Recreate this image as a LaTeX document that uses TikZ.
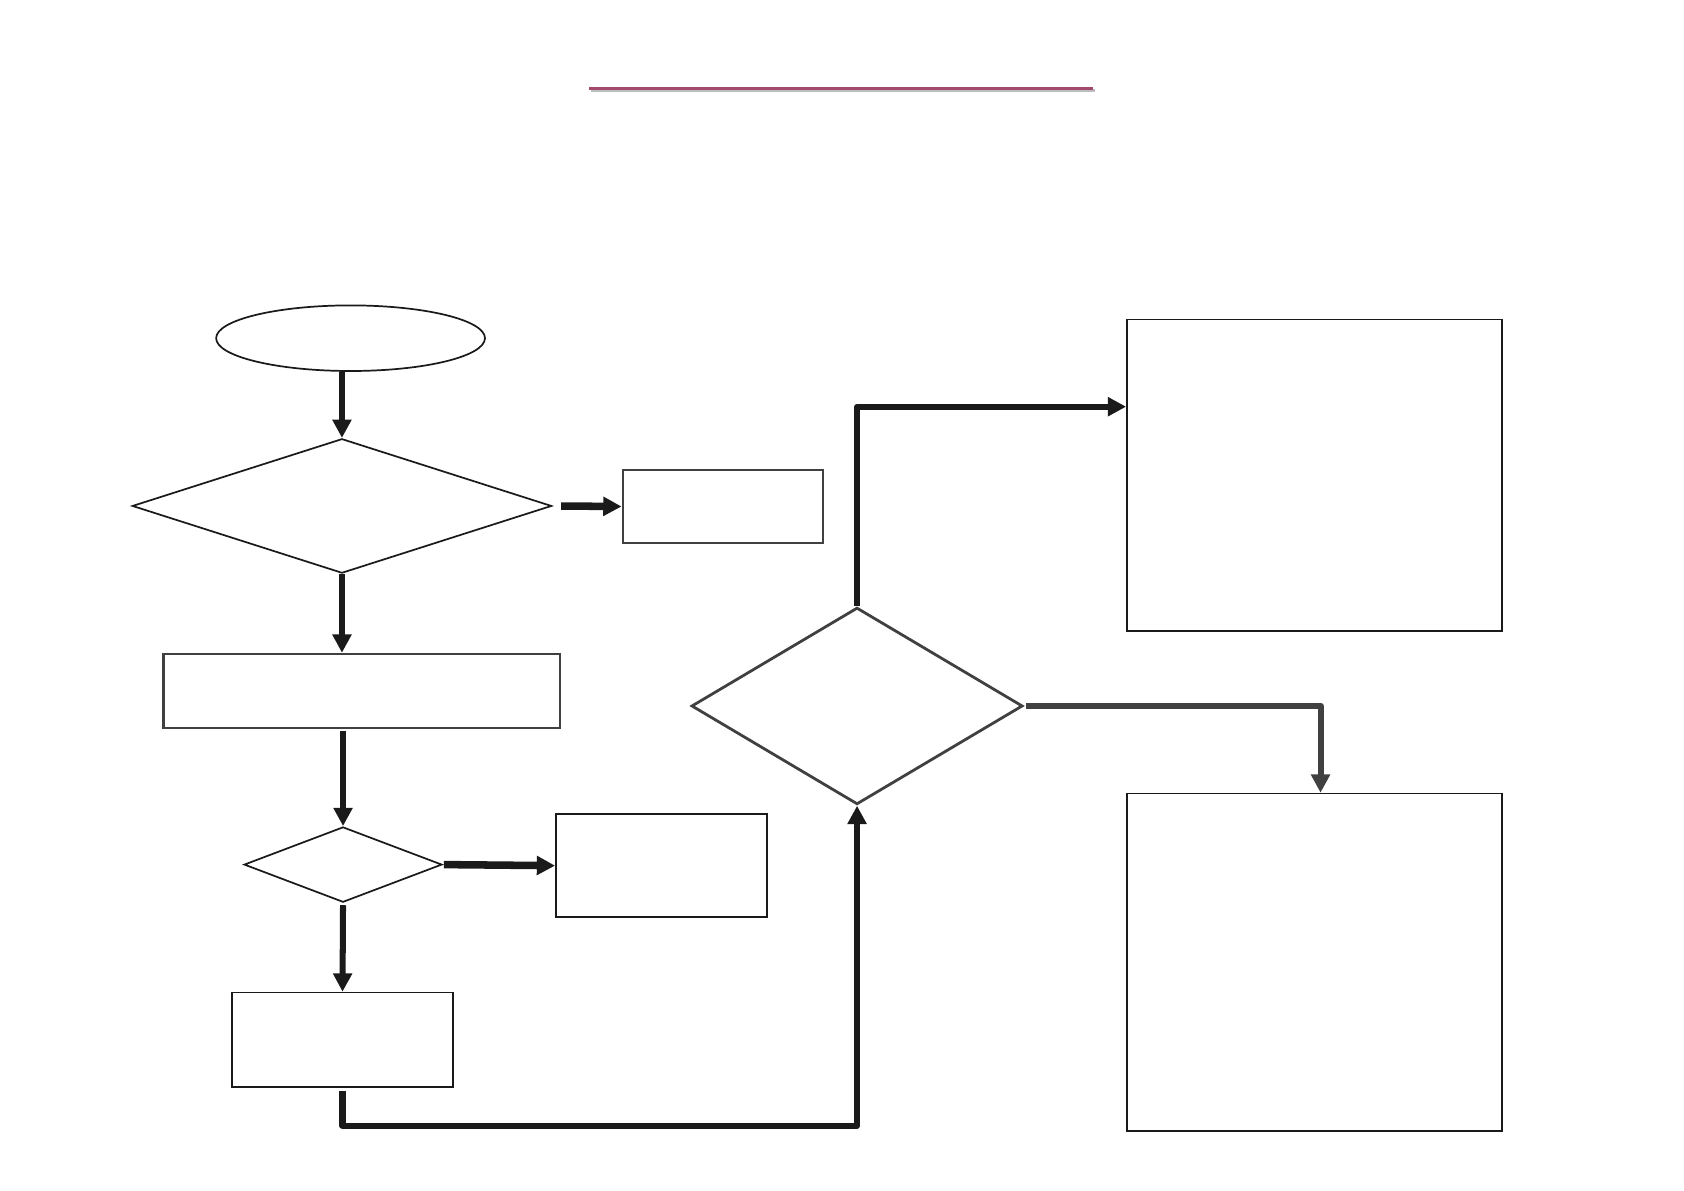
\documentclass[tikz,border=0pt]{standalone}
\usetikzlibrary{shapes.geometric,arrows.meta}
\definecolor{inkdark}{HTML}{1A1A1A}
\definecolor{inkgrey}{HTML}{404040}
\definecolor{rulered}{HTML}{A3486F}
\definecolor{ruleshade}{HTML}{BDBDBD}
\begin{document}
\begin{tikzpicture}[x=1pt,y=-1pt,
    box/.style={draw=inkdark,line width=1.6pt,rectangle,inner sep=0pt},
    greybox/.style={box,draw=inkgrey,line width=2pt},
    decision/.style={draw=inkdark,line width=1.6pt,diamond,inner sep=0pt},
    terminal/.style={draw=inkdark,line width=1.6pt,ellipse,inner sep=0pt},
    flow/.style={draw=inkdark,line width=5.6pt,line join=round,-{Triangle[length=17pt,width=17pt]}},
    heavyflow/.style={flow,line width=7pt}]
  \useasboundingbox (0,0) rectangle (1566,1107);
  % title rule
  \draw[ruleshade,line width=2.6pt] (550,84) -- (1018,84);
  \draw[rulered,line width=2.6pt] (548,82) -- (1016,82);
  % left column
  \node[terminal,minimum width=250pt,minimum height=61pt] (start) at (326,314.5) {};
  \node[decision,minimum width=390pt,minimum height=125pt] (check) at (318,470.5) {};
  \node[greybox,minimum width=186pt,minimum height=68pt] (reject) at (672,471) {};
  \node[greybox,minimum width=369pt,minimum height=69pt] (setup) at (336.5,642.5) {};
  \node[decision,minimum width=184pt,minimum height=70pt] (test) at (319,804) {};
  \node[box,minimum width=196pt,minimum height=96pt] (retry) at (615,805) {};
  \node[box,minimum width=205pt,minimum height=88pt] (run) at (318.5,967) {};
  % right part
  \node[decision,draw=inkgrey,line width=2.6pt,minimum width=308pt,minimum height=183pt] (branch) at (797,656.5) {};
  \node[box,minimum width=349pt,minimum height=290pt] (upper) at (1222.5,442) {};
  \node[box,minimum width=349pt,minimum height=314pt] (lower) at (1222.5,895) {};
  % connectors
  \draw[flow] (check.north |- start.south) -- (check.north);
  \draw[heavyflow,shorten <=8pt] (check.east) -- (reject.west);
  \draw[flow] (check.south) -- (check.south |- setup.north);
  \draw[flow,shorten <=2pt] (test.north |- setup.south) -- (test.north);
  \draw[heavyflow,shorten <=1pt] (test.east) -- (retry.west);
  \draw[flow,shorten <=2pt] (test.south) -- (run.north);
  \draw[flow] ([yshift=-3pt]run.south) -- ++(0,32) -| (branch.south);
  \draw[flow] (branch.north) |- ([yshift=-82pt]upper.north west);
  \draw[flow,draw=inkgrey,shorten <=2pt] (branch.east) -| ([xshift=5.5pt]lower.north);
\end{tikzpicture}
\end{document}
